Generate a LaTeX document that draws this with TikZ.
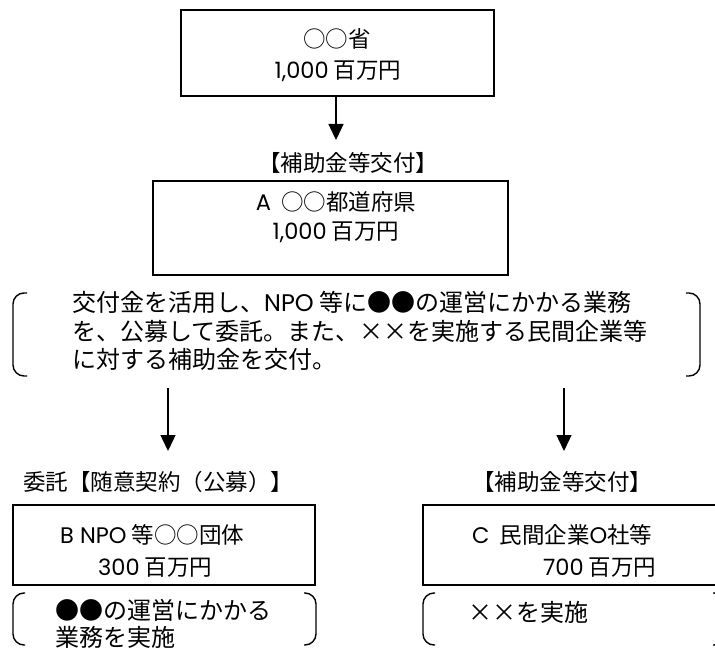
\documentclass[tikz,border=0pt]{standalone}
\usepackage{fontspec}
\setmainfont{Noto Sans CJK JP}
\newfontfamily\lat{Poppins}
\usetikzlibrary{arrows.meta}
\begin{document}
\begin{tikzpicture}[x=1pt,y=-1pt,
  box/.style={draw,line width=1.4pt,inner sep=0pt},
  txt/.style={font=\fontsize{22.5}{26}\selectfont,inner sep=0pt},
  bigtxt/.style={font=\fontsize{24}{28}\selectfont,inner sep=0pt,anchor=west},
  arr/.style={line width=1.4pt,-{Triangle[width=15pt,length=16pt]}},
  paren/.style={line width=1.4pt,rounded corners=11pt}]
\useasboundingbox (0,0) rectangle (715,652);
% top box
\node[box,minimum width=313pt,minimum height=86pt] (top) at (337.5,53) {};
\node[txt] (t1) at (337,39) {○○省};
\node[txt] (t2) at (338,71) {{\lat 1,000} 百万円};
\coordinate (a1s) at (336,96);
\coordinate (a1e) at (336,140);
\draw[arr] (a1s) -- (a1e);
\node[txt] (lab1) at (348,163) {【補助金等交付】};
% box A
\node[box,minimum width=355pt,minimum height=94pt] (boxA) at (330.5,228) {};
\node[txt] (a1) at (336,202) {{\lat A}\ \ ○○都道府県};
\node[txt] (a2) at (336,232) {{\lat 1,000} 百万円};
% big bracket text
\draw[paren] (27,293) -- (13,293) -- (13,376) -- (27,376);
\draw[paren] (686,293) -- (700,293) -- (700,376) -- (686,376);
\node[bigtxt] (l1) at (72,302) {交付金を活用し、{\lat NPO} 等に●●の運営にかかる業務};
\node[bigtxt] (l2) at (72,331) {を、公募して委託。また、××を実施する民間企業等};
\node[bigtxt] (l3) at (72,359) {に対する補助金を交付。};
% arrows down
\coordinate (a2s) at (168,388);
\coordinate (a2e) at (168,451);
\coordinate (a3s) at (564,388);
\coordinate (a3e) at (564,451);
\draw[arr] (a2s) -- (a2e);
\draw[arr] (a3s) -- (a3e);
\node[txt,anchor=west] (lab2) at (23,482) {委託【随意契約（公募）】};
\node[txt] (lab3) at (562,482) {【補助金等交付】};
% box B
\node[box,minimum width=302pt,minimum height=80pt] (boxB) at (164,545) {};
\node[txt,anchor=west] (b1) at (60,535) {{\lat B NPO} 等○○団体};
\node[txt,anchor=west] (b2) at (98,568) {{\lat 300} 百万円};
% box C
\node[box,minimum width=312pt,minimum height=80pt] (boxC) at (579,545) {};
\node[txt,anchor=west] (c1) at (472,535) {{\lat C}\ \ 民間企業{\lat O}社等};
\node[txt,anchor=west] (c2) at (543,568) {{\lat 700} 百万円};
% B bracket
\draw[paren] (25,593) -- (13,593) -- (13,645) -- (25,645);
\draw[paren] (304,593) -- (316,593) -- (316,645) -- (304,645);
\node[bigtxt] (bt1) at (55,610) {●●の運営にかかる};
\node[bigtxt] (bt2) at (55,637) {業務を実施};
% C bracket
\draw[paren] (435,593) -- (423,593) -- (423,645) -- (435,645);
\draw[paren] (713,593) -- (725,593) -- (725,645) -- (713,645);
\node[bigtxt] (ct1) at (468,612) {××を実施};
\end{tikzpicture}
\end{document}
